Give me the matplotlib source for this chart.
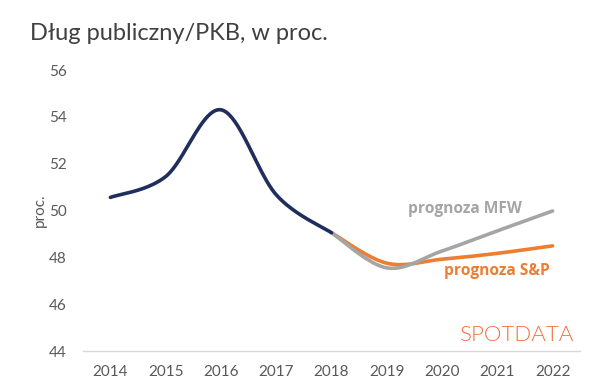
import numpy as np
import matplotlib
matplotlib.use("Agg")
import matplotlib.pyplot as plt

years = ["2014", "2015", "2016", "2017", "2018", "2019", "2020", "2021", "2022"]
debt_actual = [50.56, 51.45, 54.3, 50.67, 49.05]          # 2014-2018
forecast_mfw = [49.05, 47.55, 48.27, 49.13, 49.98]        # 2018-2022
forecast_sp = [49.05, 47.75, 47.92, 48.17, 48.49]         # 2018-2022
yticks = [44, 46, 48, 50, 52, 54, 56]

NAVY = "#1F2E5C"
GRAY = "#A5A5A5"
ORANGE = "#ED7D31"
TXT = "#595959"


def smooth(xs, ys, n=40):
    """Catmull-Rom style Bezier smoothing (like Excel's smoothed line)."""
    xs = np.asarray(xs, float)
    ys = np.asarray(ys, float)
    px, py = [], []
    m = len(xs)
    for i in range(m - 1):
        p0 = np.array([xs[max(i - 1, 0)], ys[max(i - 1, 0)]])
        p1 = np.array([xs[i], ys[i]])
        p2 = np.array([xs[i + 1], ys[i + 1]])
        p3 = np.array([xs[min(i + 2, m - 1)], ys[min(i + 2, m - 1)]])
        c1 = p1 + (p2 - p0) / 6.0
        c2 = p2 - (p3 - p1) / 6.0
        t = np.linspace(0, 1, n)[:, None]
        pts = ((1 - t) ** 3) * p1 + 3 * ((1 - t) ** 2) * t * c1 + 3 * (1 - t) * t ** 2 * c2 + t ** 3 * p2
        px.extend(pts[:, 0])
        py.extend(pts[:, 1])
    return np.array(px), np.array(py)


fig = plt.figure(figsize=(6.0, 3.9), dpi=100)
ax = fig.add_axes([0.138, 0.10, 0.829, 0.7205])

x_act = np.arange(0, 5)
x_fc = np.arange(4, 9)

sx, sy = smooth(x_fc, forecast_sp)
ax.plot(sx, sy, color=ORANGE, lw=2.6, solid_capstyle="round", zorder=2)
mx, my = smooth(x_fc, forecast_mfw)
ax.plot(mx, my, color=GRAY, lw=2.6, solid_capstyle="round", zorder=3)
ax.plot(*smooth(x_act, debt_actual), color=NAVY, lw=2.6, solid_capstyle="round", zorder=4)

ax.set_xlim(-0.5, 8.5)
ax.set_ylim(44, 56)
ax.set_xticks(range(len(years)))
ax.set_xticklabels(years)
ax.set_yticks(yticks)

for s in ["top", "right", "left"]:
    ax.spines[s].set_visible(False)
ax.spines["bottom"].set_color("#D9D9D9")
ax.spines["bottom"].set_linewidth(1.0)
ax.tick_params(axis="x", length=0, labelsize=11, labelcolor=TXT, pad=10)
ax.tick_params(axis="y", length=0, labelsize=11, labelcolor=TXT, pad=11.5)
for lab in ax.get_xticklabels() + ax.get_yticklabels():
    lab.set_fontfamily("Lato")

ax.set_ylabel("proc.", fontsize=11, color=TXT, family="Lato", labelpad=1.5)

fig.text(0.05, 0.915, "Dług publiczny/PKB, w proc.", fontsize=17, color="#404040",
         family="Lato", ha="left", va="center")

ax.text(7.45, 50.08, "prognoza MFW", color=GRAY, fontsize=11.2, fontweight="bold",
        family="Open Sans", ha="right", va="center")
ax.text(7.94, 47.4, "prognoza S&P", color=ORANGE, fontsize=11.2, fontweight="bold",
        family="Open Sans", ha="right", va="center")

fig.text(0.958, 0.14, "SPOTDATA", color="#F26B3A", fontsize=16, family="Lato",
         fontweight=300, ha="right", va="center")

fig.savefig("out.png", dpi=100, facecolor="white")
